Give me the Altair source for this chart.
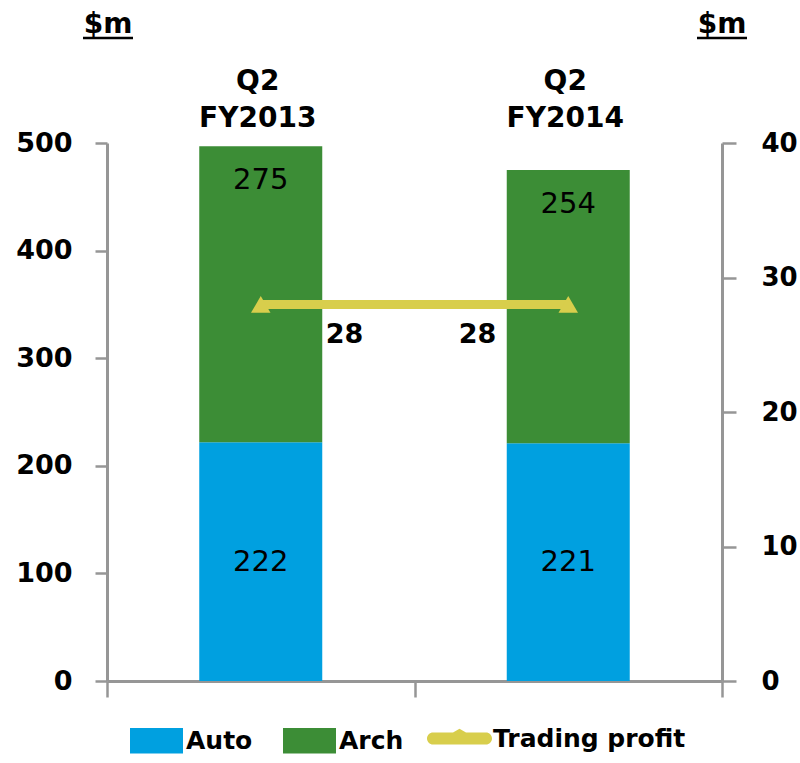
import altair as alt
import pandas as pd

# ---- data ----
quarters = ["Q2 FY2013", "Q2 FY2014"]
header_top = ["Q2", "Q2"]
header_bottom = ["FY2013", "FY2014"]
segments = ["Auto", "Arch"]
auto_values = [222, 221]
arch_values = [275, 254]
trading_profit = [28, 28]
left_ticks = [0, 100, 200, 300, 400, 500]
right_ticks = [0, 10, 20, 30, 40]
unit_labels = ["$m", "$m"]

BLUE = "#00A0E0"
GREEN = "#3C8D36"
YELLOW = "#D8CE4C"
GRAY = "#969696"
FONT = "DejaVu Sans"

rows = []
for q, a, b in zip(quarters, auto_values, arch_values):
    rows.append({"quarter": q, "segment": "Auto", "value": a, "order": 0})
    rows.append({"quarter": q, "segment": "Arch", "value": b, "order": 1})
bars_df = pd.DataFrame(rows)

line_df = pd.DataFrame({
    "quarter": quarters,
    "profit": trading_profit,
    "idx": list(range(len(quarters))),
    "series": ["Trading profit"] * len(quarters),
})

head_df = pd.DataFrame({"quarter": quarters, "top": header_top, "bottom": header_bottom})
unit_df = pd.DataFrame({"unit": unit_labels[:1]})

# ---- shared encodings ----
x_enc = alt.X(
    "quarter:N",
    sort=quarters,
    scale=alt.Scale(domain=quarters, paddingInner=0, paddingOuter=0),
    axis=alt.Axis(
        labels=False, title=None, tickBand="extent", tickSize=16,
        domainColor=GRAY, tickColor=GRAY, domainWidth=3, tickWidth=2.5,
        grid=False,
    ),
)

left_scale = alt.Scale(domain=[0, 500], nice=False, zero=True)
left_axis = alt.Axis(
    orient="left", values=left_ticks, title=None, grid=False,
    tickSize=12, tickWidth=2.5, tickColor=GRAY, domainColor=GRAY, domainWidth=3,
    labelPadding=23, labelFont=FONT, labelFontSize=27, labelFontWeight="bold",
    labelColor="black",
)

right_scale = alt.Scale(domain=[0, 40], nice=False, zero=True)
right_axis = alt.Axis(
    orient="right", values=right_ticks, title=None, grid=False,
    tickSize=14, tickWidth=2.5, tickColor=GRAY, domainColor=GRAY, domainWidth=3,
    labelPadding=25, labelFont=FONT, labelFontSize=26, labelFontWeight="bold",
    labelColor="black",
)

# ---- left (bars) group ----
bars = alt.Chart(bars_df).mark_bar(size=123).encode(
    x=x_enc,
    y=alt.Y("value:Q", stack="zero", scale=left_scale, axis=left_axis),
    color=alt.Color(
        "segment:N",
        scale=alt.Scale(domain=segments, range=[BLUE, GREEN]),
        legend=alt.Legend(
            orient="none", legendX=23, legendY=571, direction="horizontal",
            title=None, symbolType="M-1,-0.48H1V0.48H-1Z", symbolSize=2809,
            symbolStrokeWidth=0, labelFont=FONT, labelFontSize=25,
            labelFontWeight="bold", labelColor="black", labelOffset=3,
            columnPadding=30, padding=0, labelLimit=300,
        ),
    ),
    order=alt.Order("order:Q"),
)

auto_text = alt.Chart(bars_df).transform_filter(
    alt.datum.segment == "Auto"
).transform_calculate(
    ly="datum.value / 2"
).mark_text(font=FONT, fontSize=29, color="black", baseline="middle").encode(
    x=x_enc,
    y=alt.Y("ly:Q", scale=left_scale, axis=left_axis),
    text=alt.Text("value:Q"),
)

arch_text = alt.Chart(bars_df).transform_joinaggregate(
    total="sum(value)", groupby=["quarter"]
).transform_filter(
    alt.datum.segment == "Arch"
).mark_text(font=FONT, fontSize=29, color="black", baseline="middle", dy=34).encode(
    x=x_enc,
    y=alt.Y("total:Q", scale=left_scale, axis=left_axis),
    text=alt.Text("value:Q"),
)

head_top = alt.Chart(head_df).mark_text(
    font=FONT, fontSize=28, fontWeight="bold", color="black", baseline="alphabetic", dx=-3
).encode(x=x_enc, y=alt.value(-53), text="top:N")

head_bottom = alt.Chart(head_df).mark_text(
    font=FONT, fontSize=28, fontWeight="bold", color="black", baseline="alphabetic", dx=-3
).encode(x=x_enc, y=alt.value(-16), text="bottom:N")

unit_left = alt.Chart(unit_df).mark_text(
    font=FONT, fontSize=28, fontWeight="bold", color="black", baseline="alphabetic", align="center"
).encode(x=alt.value(1), y=alt.value(-110), text="unit:N")

unit_right = alt.Chart(unit_df).mark_text(
    font=FONT, fontSize=28, fontWeight="bold", color="black", baseline="alphabetic", align="center"
).encode(x=alt.value(615), y=alt.value(-110), text="unit:N")

underline_left = alt.Chart(unit_df).mark_rule(color="black", strokeWidth=2.5).encode(
    x=alt.value(-24), x2=alt.value(26), y=alt.value(-105)
)
underline_right = alt.Chart(unit_df).mark_rule(color="black", strokeWidth=2.5).encode(
    x=alt.value(590), x2=alt.value(640), y=alt.value(-105)
)

left_group = alt.layer(
    bars, auto_text, arch_text, head_top, head_bottom,
    unit_left, unit_right, underline_left, underline_right,
)

# ---- right (trading profit) group ----
y_right = alt.Y("profit:Q", scale=right_scale, axis=right_axis)

legend_path = (
    "M-0.815,-0.185 L-0.2,-0.185 L0,-0.3 L0.2,-0.185 L0.815,-0.185 "
    "A0.185,0.185 0 0 1 0.815,0.185 L-0.815,0.185 "
    "A0.185,0.185 0 0 1 -0.815,-0.185 Z"
)

line = alt.Chart(line_df).mark_line(color=YELLOW, strokeWidth=9).encode(
    x=x_enc, y=y_right
)

# carries the legend entry (line with marker); its own marks are hidden
legend_carrier = alt.Chart(line_df).mark_point(
    filled=True, color=YELLOW, size=1, opacity=0
).encode(
    x=x_enc,
    y=y_right,
    shape=alt.Shape(
        "series:N",
        scale=alt.Scale(domain=["Trading profit"], range=[legend_path]),
        legend=alt.Legend(
            orient="none", legendX=320, legendY=563, title=None,
            symbolSize=4225, symbolFillColor=YELLOW,
            symbolStrokeWidth=0, symbolOpacity=1,
            labelFont=FONT, labelFontSize=25, labelFontWeight="bold",
            labelColor="black", labelOffset=1, padding=0, labelLimit=300,
        ),
    ),
)

points = alt.Chart(line_df).mark_point(
    filled=True, color=YELLOW, opacity=1, size=380, shape="triangle-up"
).encode(x=x_enc, y=y_right)

tp_text_left = alt.Chart(line_df).transform_filter(alt.datum.idx == 0).mark_text(
    font=FONT, fontSize=27, fontWeight="bold", color="black",
    align="left", baseline="middle", dx=65, dy=31,
).encode(x=x_enc, y=y_right, text="profit:Q")

tp_text_right = alt.Chart(line_df).transform_filter(alt.datum.idx == 1).mark_text(
    font=FONT, fontSize=27, fontWeight="bold", color="black",
    align="right", baseline="middle", dx=-72, dy=31,
).encode(x=x_enc, y=y_right, text="profit:Q")

right_group = alt.layer(line, legend_carrier, points, tp_text_left, tp_text_right)

chart = alt.layer(left_group, right_group).resolve_scale(
    y="independent"
).properties(
    width=615,
    height=538,
    padding={"left": 107, "top": 143, "right": 78, "bottom": 82},
    autosize=alt.AutoSizeParams(type="none"),
    background="white",
).configure_view(stroke=None)

chart.save("out.html", embed_options={"renderer": "svg", "actions": False})
